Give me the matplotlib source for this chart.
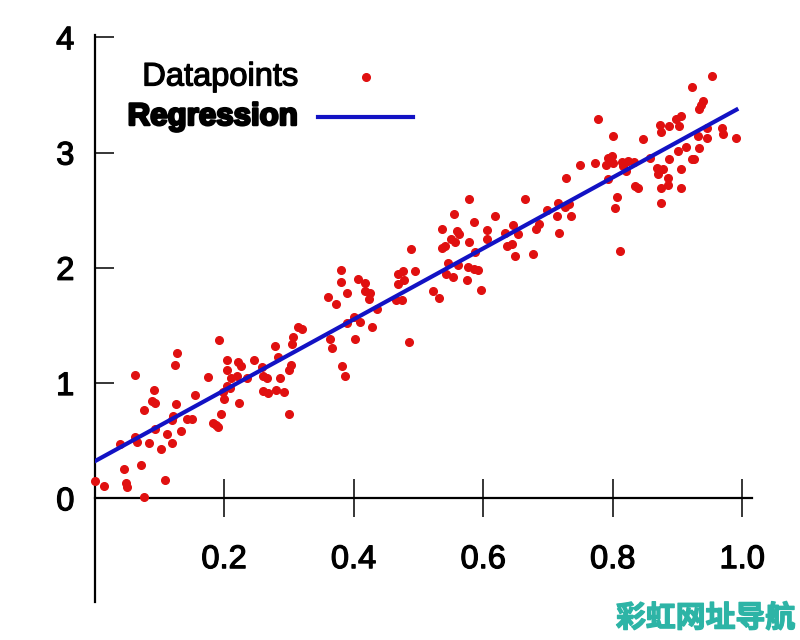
import matplotlib
matplotlib.use("Agg")
import matplotlib.pyplot as plt
import matplotlib.patheffects as pe
from matplotlib.lines import Line2D
import numpy as np

plt.rcParams['font.family'] = ['Liberation Sans', 'DejaVu Sans']

# scattered datapoints
x_data = [0.125, 0.062, 0.092, 0.089, 0.094, 0.076, 0.126, 0.155, 0.121, 0.119,
          0.143, 0.150, 0.133, 0.093, 0.112, 0.119, 0.062, 0.065, 0.084, 0.102,
          0.040, 0.045, 0.072, 0.000, 0.014, 0.048, 0.050, 0.109, 0.076, 0.128,
          0.314, 0.321, 0.307, 0.305, 0.192, 0.279, 0.283, 0.204, 0.222, 0.226,
          0.246, 0.205, 0.303, 0.300, 0.175, 0.211, 0.220, 0.236, 0.259, 0.260,
          0.266, 0.287, 0.204, 0.209, 0.198, 0.200, 0.260, 0.268, 0.280, 0.293,
          0.223, 0.195, 0.300, 0.183, 0.188, 0.191,
          0.488, 0.381, 0.380, 0.407, 0.418, 0.468, 0.476, 0.495, 0.468, 0.478,
          0.360, 0.373, 0.390, 0.418, 0.426, 0.423, 0.465, 0.475, 0.436, 0.400,
          0.390, 0.410, 0.429, 0.364, 0.366, 0.402, 0.486, 0.382, 0.387,
          0.578, 0.665, 0.555, 0.586, 0.618, 0.536, 0.560, 0.563, 0.606, 0.606,
          0.550, 0.556, 0.578, 0.541, 0.537, 0.634, 0.646, 0.654, 0.645, 0.637,
          0.649, 0.587, 0.545, 0.561, 0.576, 0.586, 0.592, 0.542, 0.553, 0.575,
          0.597, 0.523, 0.532,
          0.777, 0.801, 0.792, 0.799, 0.750, 0.773, 0.790, 0.801, 0.815, 0.824,
          0.833, 0.816, 0.821, 0.728, 0.793, 0.834, 0.839, 0.807, 0.803, 0.715,
          0.698, 0.726, 0.732, 0.736, 0.714, 0.686, 0.681, 0.717, 0.677, 0.811,
          0.953, 0.922, 0.939, 0.936, 0.933, 0.906, 0.898, 0.873, 0.874, 0.887,
          0.903, 0.846, 0.946, 0.931, 0.946, 0.968, 0.971, 0.991, 0.913, 0.901,
          0.933, 0.922, 0.926, 0.887, 0.868, 0.878, 0.905, 0.870, 0.885, 0.886,
          0.875, 0.905, 0.874, 0.857]
y_data = [1.16, 1.07, 0.94, 0.84, 0.83, 0.77, 0.82, 0.90, 0.71, 0.68,
          0.69, 0.69, 0.58, 0.60, 0.56, 0.48, 0.53, 0.49, 0.48, 0.43,
          0.47, 0.25, 0.29, 0.15, 0.11, 0.13, 0.10, 0.16, 0.01, 1.26,
          1.49, 1.47, 1.40, 1.34, 1.37, 1.32, 1.23, 1.20, 1.18, 1.15,
          1.20, 1.11, 1.16, 1.11, 1.05, 1.04, 1.06, 1.04, 1.14, 1.06,
          1.04, 1.04, 0.97, 0.96, 0.92, 0.86, 0.93, 0.91, 0.94, 0.92,
          0.83, 0.73, 0.73, 0.65, 0.64, 0.62,
          2.16, 1.98, 1.88, 1.90, 1.87, 1.95, 1.97, 1.97, 1.86, 1.89,
          1.75, 1.69, 1.78, 1.80, 1.78, 1.73, 1.72, 1.72, 1.64, 1.57,
          1.52, 1.53, 1.49, 1.38, 1.30, 1.38, 1.36, 1.15, 1.06,
          2.60, 2.60, 2.47, 2.40, 2.45, 2.34, 2.32, 2.29, 2.33, 2.25,
          2.25, 2.22, 2.22, 2.19, 2.17, 2.30, 2.37, 2.29, 2.21, 2.19,
          2.10, 2.14, 2.04, 2.02, 2.01, 1.99, 1.98, 1.95, 1.92, 1.89,
          1.81, 1.80, 1.74,
          3.29, 3.14, 2.95, 2.97, 2.89, 2.91, 2.89, 2.91, 2.92, 2.93,
          2.92, 2.88, 2.84, 2.78, 2.77, 2.71, 2.69, 2.61, 2.52, 2.56,
          2.50, 2.53, 2.55, 2.45, 2.45, 2.38, 2.34, 2.30, 2.12, 2.15,
          3.66, 3.57, 3.45, 3.41, 3.38, 3.32, 3.29, 3.24, 3.18, 3.23,
          3.23, 3.12, 3.21, 3.14, 3.13, 3.21, 3.16, 3.13, 3.05, 3.01,
          3.04, 2.94, 2.94, 2.94, 2.87, 2.86, 2.86, 2.81, 2.78, 2.72,
          2.69, 2.69, 2.56, 2.95]

# regression line
reg_intercept = 0.32
reg_slope = 3.08
reg_x = [0.0, 0.991]

xticks = [0.2, 0.4, 0.6, 0.8, 1.0]
xtick_labels = ['0.2', '0.4', '0.6', '0.8', '1.0']
yticks = [0, 1, 2, 3, 4]

red = '#e01010'
blue = '#1212c4'
thicken = [pe.withStroke(linewidth=0.9, foreground='black')]

fig = plt.figure(figsize=(8, 6.4), dpi=100)
ax = fig.add_axes([94.5 / 800, 38 / 640, 657.5 / 800, 567 / 640])
ax.set_xlim(0, 1.015)
ax.set_ylim(-0.90, 4.02)

ax.plot(x_data, y_data, 'o', color=red, mec=red, ms=5.5, clip_on=False, zorder=3)
rx = np.array(reg_x)
ax.plot(rx, reg_intercept + reg_slope * rx, '-', color=blue, lw=3, zorder=4)

for s in ['top', 'right']:
    ax.spines[s].set_visible(False)
ax.spines['bottom'].set_position(('data', 0))
ax.spines['bottom'].set_linewidth(1.6)
ax.spines['left'].set_linewidth(1.6)

ax.set_xticks(xticks)
ax.set_xticklabels(xtick_labels)
ax.set_yticks(yticks)
ax.tick_params(axis='x', direction='inout', length=28, width=1.1, pad=19, labelsize=23.5)
ax.tick_params(axis='y', direction='in', length=14, width=1.1, pad=14.5, labelsize=23.5)
for lab in ax.get_xticklabels() + ax.get_yticklabels():
    lab.set_path_effects(thicken)

# legend drawn by hand: text right-aligned, symbol after
ax.text(298 / 800, (640 - 77) / 640, 'Datapoints', transform=fig.transFigure,
        ha='right', va='center', fontsize=23.5, path_effects=thicken)
ax.text(298 / 800, (640 - 117) / 640, 'Regression', transform=fig.transFigure,
        ha='right', va='center', fontsize=22.5, fontweight='bold',
        path_effects=[pe.withStroke(linewidth=1.8, foreground='black')])
fig.add_artist(Line2D([366 / 800], [(640 - 77) / 640], marker='o', color=red,
                      ms=5.5, transform=fig.transFigure))
fig.add_artist(Line2D([318 / 800, 413 / 800], [(640 - 117) / 640] * 2, color=blue,
                      lw=3, transform=fig.transFigure))

# watermark
fig.text(616 / 800, (640 - 618) / 640, '彩虹网址导航', color='#2db4a6',
         fontsize=21.5, fontweight='heavy', style='italic', ha='left', va='center',
         family=['Noto Sans CJK SC', 'DejaVu Sans'],
         path_effects=[pe.withStroke(linewidth=1.0, foreground='#2db4a6')])

fig.savefig('out.png', dpi=100)
